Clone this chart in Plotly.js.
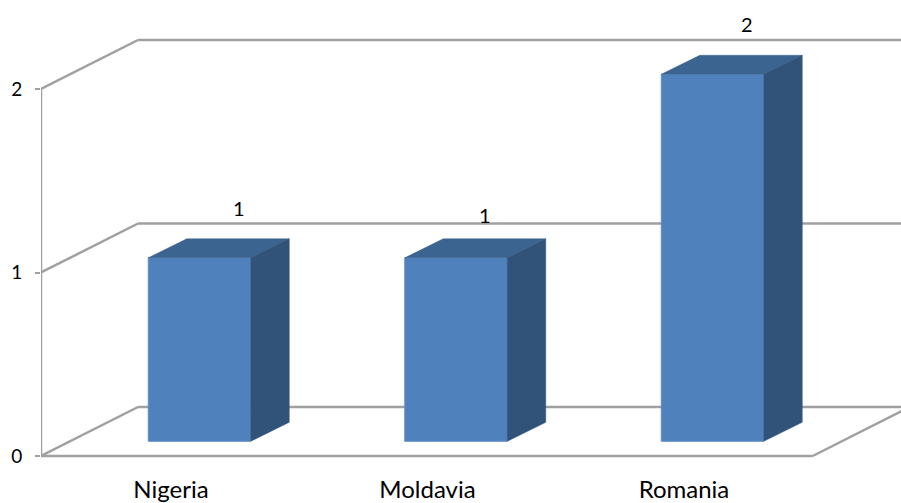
<!DOCTYPE html>
<html>
<head>
<meta charset="utf-8">
<script src="https://cdn.plot.ly/plotly-3.0.1.min.js"></script>
<style>html,body{margin:0;padding:0;background:#fff}</style>
</head>
<body>
<div id="chart" style="width:901px;height:503px"></div>
<script>
const categories = ["Nigeria", "Moldavia", "Romania"];
const values = [1, 1, 2];
const yTicks = [0, 1, 2];
const valueLabels = ["1", "1", "2"];

// 3D projection settings, in axis units
const pxX = 256.5, pxY = 183.5;
const wall = { dx: 97 / pxX, dy: 49 / pxY };
const bar = { shift: 28.5 / pxX, lift: 14.7 / pxY, width: 102.5 / pxX, dx: 38.5 / pxX, dy: 19 / pxY };
const labelShift = [[39, 50], [29, 43], [34, 50]];
const xRange = [(41 - 171) / pxX, (901 - 171) / pxX];
const yRange = [-14 / pxY, 456 / pxY];
const left = xRange[0];
const frontRight = (812.7 - 171) / pxX;
const gridColor = "#A0A0A0";
const font = "Lato, 'Open Sans', sans-serif";

const xIdx = categories.map((_, i) => i);
const traces = [];
traces.push({
  type: "bar",
  x: xIdx.map(i => i + bar.shift),
  y: values,
  base: values.map(() => bar.lift),
  width: bar.width,
  marker: { color: "#4F81BD", line: { color: "#5F8FCA", width: 1 } },
  hoverinfo: "skip",
  showlegend: false
});
xIdx.forEach(i => {
  const x0 = i + bar.shift - bar.width / 2;
  const x1 = x0 + bar.width;
  const y0 = bar.lift;
  const y1 = values[i] + bar.lift;
  traces.push({
    type: "scatter", mode: "lines", fill: "toself", fillcolor: "#3C6491",
    x: [x0, x1, x1 + bar.dx, x0 + bar.dx, x0],
    y: [y1, y1, y1 + bar.dy, y1 + bar.dy, y1],
    line: { color: "#3C6491", width: 0.5 }, hoverinfo: "skip", showlegend: false
  });
  traces.push({
    type: "scatter", mode: "lines", fill: "toself", fillcolor: "#325379",
    x: [x1, x1 + bar.dx, x1 + bar.dx, x1, x1],
    y: [y1, y1 + bar.dy, y0 + bar.dy, y0, y1],
    line: { color: "#325379", width: 0.5 }, hoverinfo: "skip", showlegend: false
  });
});

const seg = (x0, y0, x1, y1) => ({
  type: "line", xref: "x", yref: "y", x0, y0, x1, y1, layer: "below",
  line: { color: gridColor, width: 2.5 }
});
const shapes = [];
yTicks.forEach(v => {
  shapes.push(seg(left, v, left + wall.dx, v + wall.dy));
  shapes.push(seg(left + wall.dx, v + wall.dy, xRange[1] + 1, v + wall.dy));
});
const yMax = yTicks[yTicks.length - 1];
shapes.push(seg(left, 0, left, yMax));
shapes.push(seg(left, 0, frontRight, 0));
shapes.push(seg(frontRight, 0, frontRight + wall.dx, wall.dy));

const annotations = xIdx.map(i => ({
  xref: "x", yref: "y",
  x: i + bar.shift + labelShift[i][0] / pxX,
  y: values[i] + bar.lift + labelShift[i][1] / pxY,
  text: valueLabels[i], showarrow: false, xanchor: "center", yanchor: "middle",
  font: { family: font, size: 20, color: "#000" }
}));

const layout = {
  width: 901, height: 503,
  margin: { l: 41, r: 0, t: 0, b: 33, pad: 0 },
  paper_bgcolor: "#fff", plot_bgcolor: "#fff",
  showlegend: false,
  barmode: "overlay",
  xaxis: {
    range: xRange, tickmode: "array", tickvals: xIdx, ticktext: categories,
    showgrid: false, zeroline: false, showline: false, ticks: "", ticklabelstandoff: 3,
    tickfont: { family: font, size: 24, color: "#000" }, fixedrange: true
  },
  yaxis: {
    range: yRange, tickmode: "array", tickvals: yTicks, ticktext: yTicks.map(String),
    showgrid: false, zeroline: false, showline: false,
    ticks: "outside", ticklen: 5, tickwidth: 2, tickcolor: gridColor, ticklabelstandoff: 9,
    tickfont: { family: font, size: 19, color: "#000" }, fixedrange: true
  },
  shapes, annotations
};
Plotly.newPlot("chart", traces, layout, { displayModeBar: false, staticPlot: true });
</script>
</body>
</html>
